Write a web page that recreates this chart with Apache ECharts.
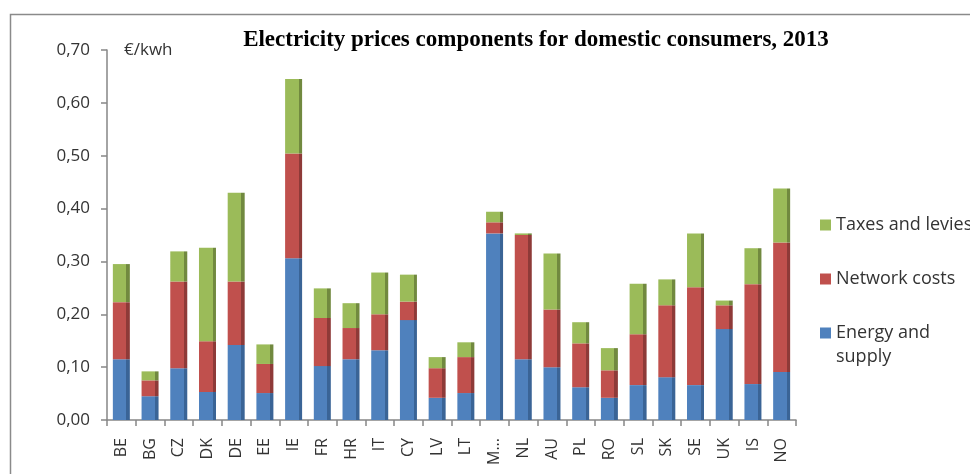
<!DOCTYPE html>
<html>
<head>
<meta charset="utf-8">
<script src="https://cdn.jsdelivr.net/npm/echarts@6/dist/echarts.min.js"></script>
<style>
html, body { margin: 0; padding: 0; background: #fff; }
#chart { width: 970px; height: 474px; }
</style>
</head>
<body>
<div id="chart"></div>
<script>
// values in €/kwh
var countries = ['BE','BG','CZ','DK','DE','EE','IE','FR','HR','IT','CY','LV','LT','M...','NL','AU','PL','RO','SL','SK','SE','UK','IS','NO'];
var energy  = [0.115,0.045,0.098,0.053,0.142,0.051,0.306,0.102,0.115,0.132,0.189,0.042,0.051,0.353,0.115,0.100,0.062,0.042,0.066,0.081,0.066,0.172,0.068,0.091];
var network = [0.108,0.030,0.164,0.096,0.120,0.055,0.198,0.091,0.059,0.068,0.035,0.056,0.068,0.021,0.235,0.109,0.083,0.052,0.096,0.136,0.185,0.045,0.189,0.245];
var taxes   = [0.072,0.017,0.057,0.177,0.168,0.037,0.141,0.056,0.047,0.079,0.051,0.021,0.028,0.020,0.003,0.106,0.040,0.042,0.096,0.049,0.102,0.009,0.068,0.102];

var seriesNames = ['Energy and supply', 'Network costs', 'Taxes and levies'];

var font = 'Open Sans';

// front face + darker side strip, fakes the 3D look
function face(front, side) {
  return new echarts.graphic.LinearGradient(0, 0, 1, 0, [
    {offset: 0, color: front},
    {offset: 0.8, color: front},
    {offset: 0.8, color: side},
    {offset: 1, color: side}
  ]);
}

function legendItem(name, color, top, icon, h, label) {
  return {
    data: [{name: name, itemStyle: {color: color}}],
    orient: 'vertical',
    left: 820,
    top: top,
    padding: 0,
    icon: icon,
    itemWidth: 11,
    itemHeight: h,
    selectedMode: false,
    formatter: function () { return label; },
    textStyle: {fontFamily: font, fontSize: 18, color: '#333', lineHeight: 24}
  };
}

var chart = echarts.init(document.getElementById('chart'));
chart.setOption({
  animation: false,
  backgroundColor: '#fff',
  title: {
    text: 'Electricity prices components for domestic consumers, 2013',
    left: 536,
    top: 29,
    padding: 0,
    textAlign: 'center',
    textStyle: {fontFamily: 'Liberation Serif', fontWeight: 'bold', fontSize: 23, color: '#000'}
  },
  graphic: [
    {type: 'rect', left: 8, top: 12, shape: {width: 1000, height: 500}, style: {fill: 'none', stroke: '#8a8a8a', lineWidth: 1.5}, silent: true},
    {type: 'text', left: 124, top: 42, style: {text: '€/kwh', fontFamily: font, fontSize: 17, fill: '#333'}}
  ],
  legend: [
    legendItem('Taxes and levies', '#9BBB59', 213, 'rect', 11, 'Taxes and levies'),
    legendItem('Network costs', '#C0504D', 267, 'rect', 11, 'Network costs'),
    legendItem('Energy and supply', '#4F81BD', 321, 'path://M0,0L11,0L11,11L0,11Z M0,35L0.01,35L0.01,35.01Z', 35, 'Energy and\nsupply')
  ],
  grid: {left: 107, right: 174, top: 50, bottom: 54},
  xAxis: {
    type: 'category',
    data: countries,
    axisLine: {lineStyle: {color: '#868686', width: 1.5}},
    axisTick: {show: true, length: 6, lineStyle: {color: '#868686', width: 1.5}},
    axisLabel: {rotate: 90, margin: 18, interval: 0, fontFamily: font, fontSize: 16, color: '#333'}
  },
  yAxis: {
    type: 'value',
    min: 0,
    max: 0.7,
    interval: 0.1,
    axisLine: {show: true, lineStyle: {color: '#868686', width: 1.5}},
    axisTick: {show: true, length: 6, lineStyle: {color: '#868686', width: 1.5}},
    splitLine: {show: false},
    axisLabel: {
      margin: 17,
      fontFamily: font,
      fontSize: 17,
      color: '#333',
      formatter: function (v) { return v.toFixed(2).replace('.', ','); }
    }
  },
  series: [
    {name: seriesNames[0], type: 'bar', stack: 'p', barWidth: 17, data: energy,
     itemStyle: {color: face('#4F81BD', '#3A6496')}},
    {name: seriesNames[1], type: 'bar', stack: 'p', barWidth: 17, data: network,
     itemStyle: {color: face('#C0504D', '#8E3A38')}},
    {name: seriesNames[2], type: 'bar', stack: 'p', barWidth: 17, data: taxes,
     itemStyle: {color: face('#9BBB59', '#71893F')}}
  ]
});
</script>
</body>
</html>
